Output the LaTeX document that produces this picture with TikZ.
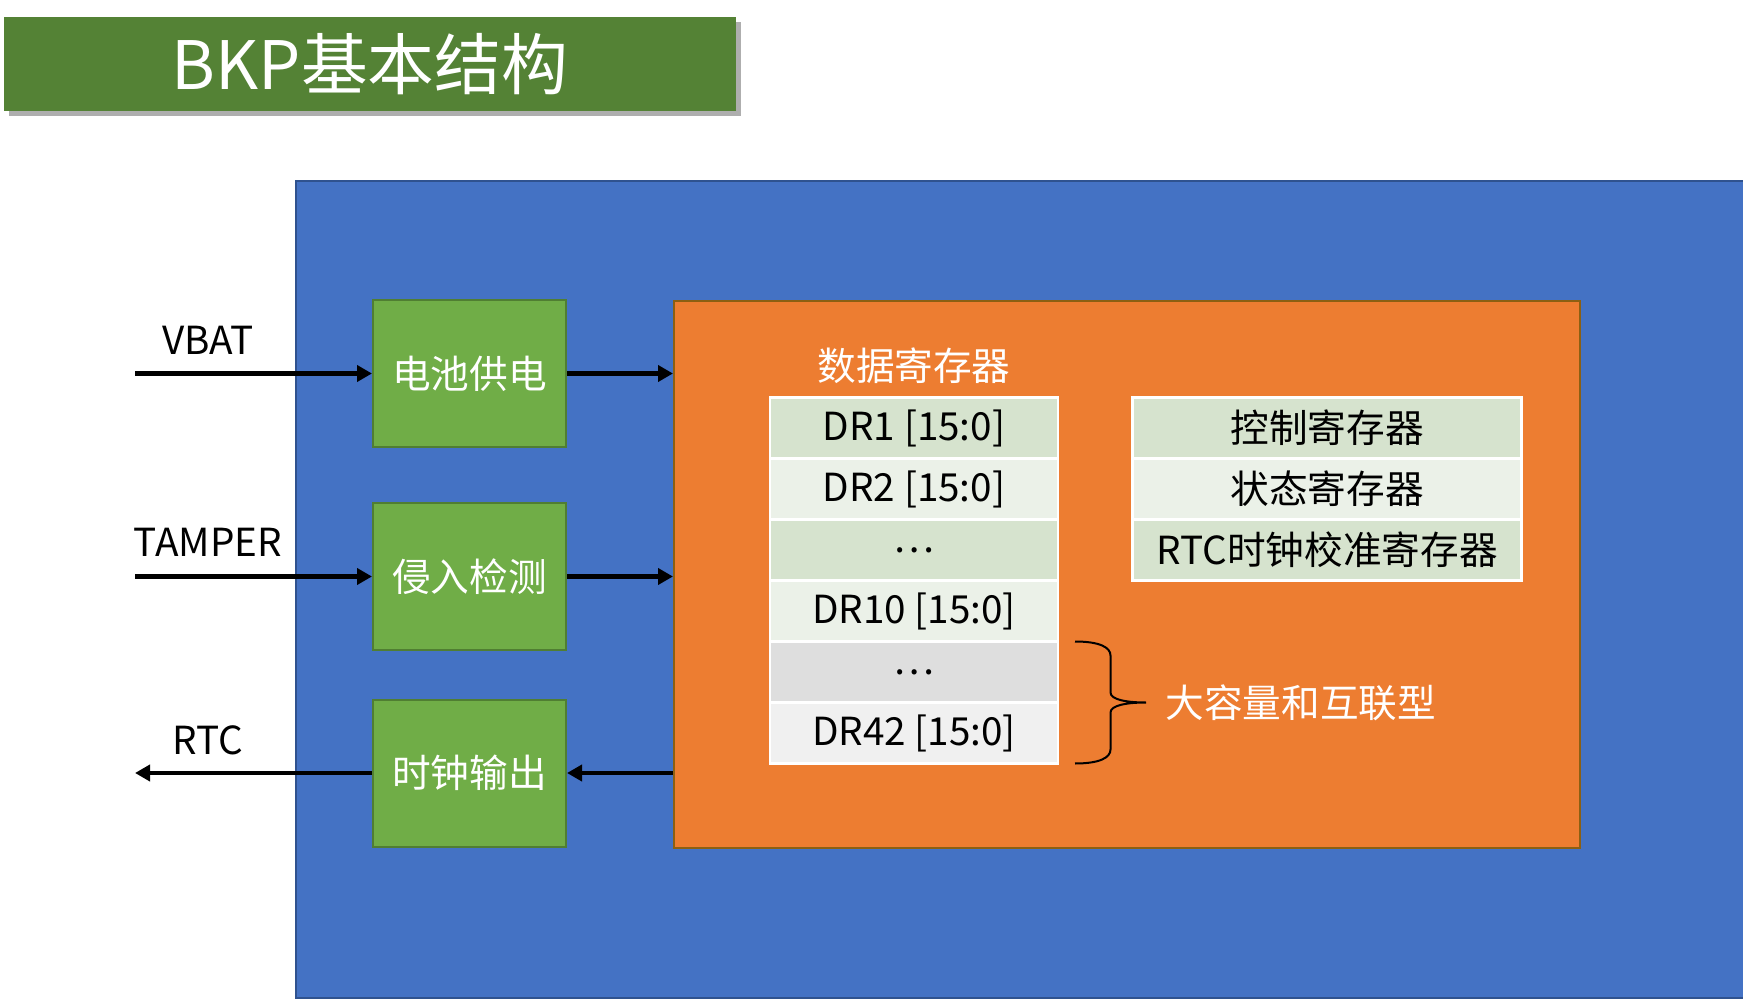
\documentclass[tikz,border=0pt]{standalone}
\usepackage{fontspec}
\setmainfont{Noto Sans CJK SC}
\usepackage{tikz}
\usetikzlibrary{arrows.meta,positioning,shadows}
\definecolor{titleg}{HTML}{548235}
\definecolor{chipfill}{HTML}{4472C4}
\definecolor{chipline}{HTML}{2F528F}
\definecolor{blkfill}{HTML}{70AD47}
\definecolor{blkline}{HTML}{507E32}
\definecolor{regsfill}{HTML}{ED7D31}
\definecolor{regsline}{HTML}{8C5F12}
\definecolor{rowa}{HTML}{D6E3CE}
\definecolor{rowb}{HTML}{EBF1E8}
\definecolor{rowc}{HTML}{DEDEDE}
\definecolor{rowd}{HTML}{F0F0F0}
\tikzset{
  blk/.style={draw=blkline,fill=blkfill,line width=0.02cm,minimum width=1.93cm,minimum height=1.47cm,
              text=white,inner sep=0pt},
  cell/.style={draw=white,fill=#1,line width=0.025cm,minimum width=2.88cm,minimum height=0.61cm,
               inner sep=0pt,outer sep=0pt,text=black},
  cell/.default=rowa,
  sig/.style={-{Triangle[length=0.15cm,width=0.16cm]},line width=0.048cm},
  wtxt/.style={text=white},
}

\begin{document}
\begin{tikzpicture}[font=\fontsize{11}{13}\selectfont,node distance=0pt]
  \useasboundingbox (0,0) rectangle (17.43,-9.99);
  % title bar
  \node[fill=titleg,minimum width=7.31cm,minimum height=0.94cm,text=white,font=\fontsize{19}{22}\selectfont,
        drop shadow={shadow xshift=0.05cm,shadow yshift=-0.05cm,fill=black!70,opacity=0.45}] (title) at (3.70,-0.64) {BKP基本结构};
  % chip and register block
  \node[draw=chipline,fill=chipfill,line width=0.02cm,anchor=north west,minimum width=14.7cm,minimum height=8.17cm] (chip) at (2.95,-1.80) {};
  \node[draw=regsline,fill=regsfill,line width=0.02cm,anchor=north west,minimum width=9.055cm,minimum height=5.465cm] (regs) at (6.73,-3.00) {};
  % side blocks
  \node[blk] (bat) at (4.695,-3.735) {电池供电};
  \node[blk] (tamp) at (4.695,-5.765) {侵入检测};
  \node[blk] (clk) at (4.695,-7.73) {时钟输出};
  \coordinate[left=2.37cm of bat.west] (vbatin);
  \coordinate[left=2.37cm of tamp.west] (tampin);
  \coordinate[left=2.37cm of clk.west] (rtcout);
  \node (vbatlbl) at (2.08,-3.40) {VBAT};
  \node (tamplbl) at (2.08,-5.425) {TAMPER};
  \node (rtclbl) at (2.08,-7.40) {RTC};
  \draw[sig] (vbatin) -- (bat.west);
  \draw[sig] (bat.east) -- (bat.east -| regs.west);
  \draw[sig] (tampin) -- (tamp.west);
  \draw[sig] (tamp.east) -- (tamp.east -| regs.west);
  \draw[sig] (clk.east -| regs.west) -- (clk.east);
  \draw[sig] (clk.west) -- (rtcout);
  % data registers
  \node[wtxt] (drlbl) at (9.14,-3.66) {数据寄存器};
  \node[cell=rowa] (dr1) at (9.14,-4.28) {DR1 [15:0]};
  \node[cell=rowb,below=of dr1] (dr2) {DR2 [15:0]};
  \node[cell=rowa,below=of dr2] (dr3) {…};
  \node[cell=rowb,below=of dr3] (dr4) {DR10 [15:0]};
  \node[cell=rowc,below=of dr4] (dr5) {…};
  \node[cell=rowd,below=of dr5] (dr6) {DR42 [15:0]};
  % control registers
  \node[cell=rowa,minimum width=3.89cm] (ctl) at (13.271,-4.28) {控制寄存器};
  \node[cell=rowb,minimum width=3.89cm,below=of ctl] (sta) {状态寄存器};
  \node[cell=rowa,minimum width=3.89cm,below=of sta] (cal) {RTC时钟校准寄存器};
  % brace
  \coordinate[right=0.17cm of dr5.north east] (brtop);
  \draw[line width=0.02cm] (brtop) .. controls +(0.25,0) and +(0,0.08) .. ++(0.355,-0.14) -- ++(0,-0.37)
    .. controls +(0,-0.07) and +(-0.2,0) .. ++(0.355,-0.10) coordinate (brtip)
    .. controls +(-0.2,0) and +(0,0.07) .. ++(-0.355,-0.10) -- ++(0,-0.37)
    .. controls +(0,-0.08) and +(0.25,0) .. ++(-0.355,-0.14);
  \node[wtxt,right=0.07cm of brtip] (bigcap) {大容量和互联型};
\end{tikzpicture}
\end{document}
